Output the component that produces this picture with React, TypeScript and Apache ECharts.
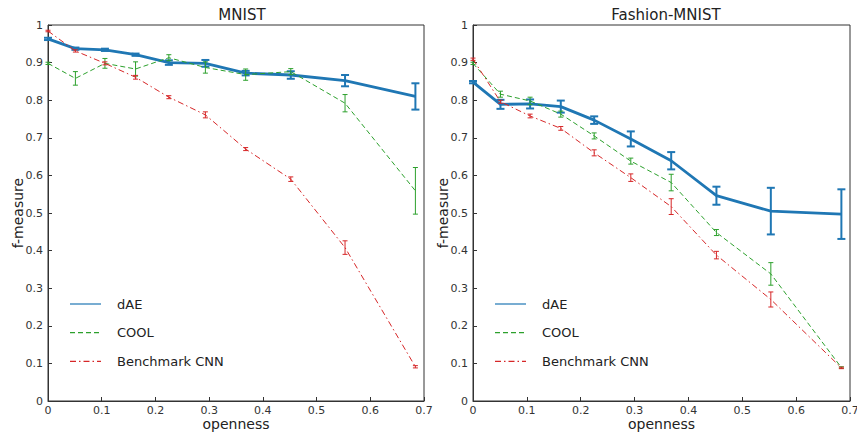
import React, { useEffect, useRef } from "react";
import * as echarts from "echarts";

const openness = [0, 0.051, 0.106, 0.163, 0.225, 0.293, 0.368, 0.452, 0.553, 0.684];
const seriesNames = ["dAE", "COOL", "Benchmark CNN"];
const panelTitles = ["MNIST", "Fashion-MNIST"];

const mnistDae = [0.963, 0.937, 0.934, 0.921, 0.9, 0.898, 0.872, 0.867, 0.852, 0.81];
const mnistDaeErr = [0.003, 0.003, 0.003, 0.003, 0.006, 0.009, 0.006, 0.01, 0.015, 0.035];
const mnistCool = [0.898, 0.858, 0.898, 0.883, 0.913, 0.887, 0.868, 0.876, 0.792, 0.559];
const mnistCoolErr = [0.003, 0.018, 0.013, 0.019, 0.008, 0.015, 0.015, 0.008, 0.023, 0.062];
const mnistCnn = [0.984, 0.931, 0.898, 0.861, 0.808, 0.761, 0.67, 0.59, 0.408, 0.091];
const mnistCnnErr = [0.002, 0.003, 0.004, 0.005, 0.004, 0.008, 0.004, 0.006, 0.018, 0.003];

const fashionDae = [0.848, 0.789, 0.79, 0.783, 0.747, 0.697, 0.639, 0.546, 0.505, 0.497];
const fashionDaeErr = [0.003, 0.012, 0.012, 0.016, 0.01, 0.02, 0.023, 0.024, 0.062, 0.066];
const fashionCool = [0.898, 0.816, 0.798, 0.763, 0.705, 0.638, 0.581, 0.448, 0.338, 0.089];
const fashionCoolErr = [0.003, 0.008, 0.01, 0.008, 0.008, 0.008, 0.022, 0.008, 0.03, 0.002];
const fashionCnn = [0.909, 0.796, 0.758, 0.725, 0.66, 0.594, 0.517, 0.388, 0.27, 0.088];
const fashionCnnErr = [0.003, 0.004, 0.005, 0.005, 0.008, 0.01, 0.021, 0.01, 0.02, 0.002];

const COLORS = ["#1f77b4", "#2ca02c", "#d62728"];
const FONT = "DejaVu Sans";

export default function App() {
  const ref = useRef<HTMLDivElement>(null);
  useEffect(() => {
    document.body.style.margin = "0";
    const chart = echarts.init(ref.current!, undefined, { renderer: "svg" });

    const panels = [
      { vals: [mnistDae, mnistCool, mnistCnn], errs: [mnistDaeErr, mnistCoolErr, mnistCnnErr] },
      { vals: [fashionDae, fashionCool, fashionCnn], errs: [fashionDaeErr, fashionCoolErr, fashionCnnErr] },
    ];

    const dashes: any[] = ["solid", [5, 3], [6, 3, 1.5, 3]];
    const widths = [2.8, 1, 1];
    const capHalf = [4, 2.5, 2.5];
    const barWidth = [2, 1, 1];

    const series: any[] = [];
    panels.forEach((p, gi) => {
      p.vals.forEach((v, si) => {
        series.push({
          type: "line",
          name: seriesNames[si],
          xAxisIndex: gi,
          yAxisIndex: gi,
          data: openness.map((x, i) => [x, v[i]]),
          symbol: "none",
          lineStyle: { color: COLORS[si], width: widths[si], type: dashes[si] },
          itemStyle: { color: COLORS[si] },
          z: 2 + si,
        });
        series.push({
          type: "custom",
          name: seriesNames[si] + " err",
          xAxisIndex: gi,
          yAxisIndex: gi,
          data: openness.map((x, i) => [x, v[i], p.errs[si][i]]),
          z: 2 + si,
          renderItem: (params: any, api: any) => {
            const x = api.value(0);
            const y = api.value(1);
            const e = api.value(2);
            const lo = api.coord([x, y - e]);
            const hi = api.coord([x, y + e]);
            const style = { stroke: COLORS[si], lineWidth: barWidth[si] };
            const h = capHalf[si];
            return {
              type: "group",
              children: [
                { type: "line", shape: { x1: lo[0], y1: lo[1], x2: hi[0], y2: hi[1] }, style },
                { type: "line", shape: { x1: lo[0] - h, y1: lo[1], x2: lo[0] + h, y2: lo[1] }, style },
                { type: "line", shape: { x1: hi[0] - h, y1: hi[1], x2: hi[0] + h, y2: hi[1] }, style },
              ],
            };
          },
        });
      });
    });

    const grids = [
      { left: 48, top: 25, width: 376, height: 376 },
      { left: 473, top: 25, width: 377, height: 376 },
    ];

    const mkX = (gi: number) => ({
      type: "value",
      gridIndex: gi,
      min: 0,
      max: 0.7,
      interval: 0.1,
      name: "openness",
      nameLocation: "middle",
      nameGap: 23,
      nameMoveOverlap: false,
      nameTextStyle: {
        fontFamily: FONT,
        fontSize: 14,
        color: "#222",
        lineHeight: 14,
        verticalAlign: "middle",
      },
      axisLine: { lineStyle: { color: "#333" } },
      axisTick: { inside: true, length: 4, lineStyle: { color: "#333" } },
      axisLabel: { fontFamily: FONT, fontSize: 11, color: "#333", margin: 4 },
      splitLine: { show: false },
    });
    const mkY = (gi: number) => ({
      type: "value",
      gridIndex: gi,
      min: 0,
      max: 1,
      interval: 0.1,
      name: "f-measure",
      nameLocation: "middle",
      nameGap: 30,
      nameMoveOverlap: false,
      nameRotate: 90,
      nameTextStyle: { fontFamily: FONT, fontSize: 14, color: "#222", verticalAlign: "middle" },
      axisLine: { lineStyle: { color: "#333" } },
      axisTick: { inside: true, length: 4, lineStyle: { color: "#333" } },
      axisLabel: { fontFamily: FONT, fontSize: 11, color: "#333", margin: 5 },
      splitLine: { show: false },
    });

    // legend drawn as graphics (line samples + labels)
    const legendGraphics: any[] = [];
    [0, 425].forEach((dx) => {
      seriesNames.forEach((name, si) => {
        const y = 304 + si * 28.7;
        legendGraphics.push({
          type: "line",
          shape: { x1: 70 + dx, y1: y, x2: 101 + dx, y2: y },
          style: {
            stroke: COLORS[si],
            lineWidth: 1.2,
            lineDash: si === 0 ? null : dashes[si],
          },
        });
        legendGraphics.push({
          type: "text",
          x: 117 + dx,
          y,
          style: {
            text: name,
            fontFamily: FONT,
            fontSize: 13,
            fill: "#222",
            verticalAlign: "middle",
            align: "left",
          },
        });
      });
    });

    chart.setOption({
      animation: false,
      backgroundColor: "#fff",
      title: panelTitles.map((t, i) => ({
        text: t,
        left: i === 0 ? 237 : 661,
        textAlign: "center",
        top: 2,
        textStyle: { fontFamily: FONT, fontSize: 15, fontWeight: "normal", color: "#222" },
      })),
      grid: grids.map((g) => ({
        ...g,
        show: true,
        borderColor: "#333",
        borderWidth: 1,
        outerBoundsMode: "none",
        containLabel: false,
      })),
      xAxis: [mkX(0), mkX(1)],
      yAxis: [mkY(0), mkY(1)],
      graphic: legendGraphics,
      series,
    });
    return () => chart.dispose();
  }, []);
  return <div ref={ref} style={{ width: 857, height: 434 }} />;
}
